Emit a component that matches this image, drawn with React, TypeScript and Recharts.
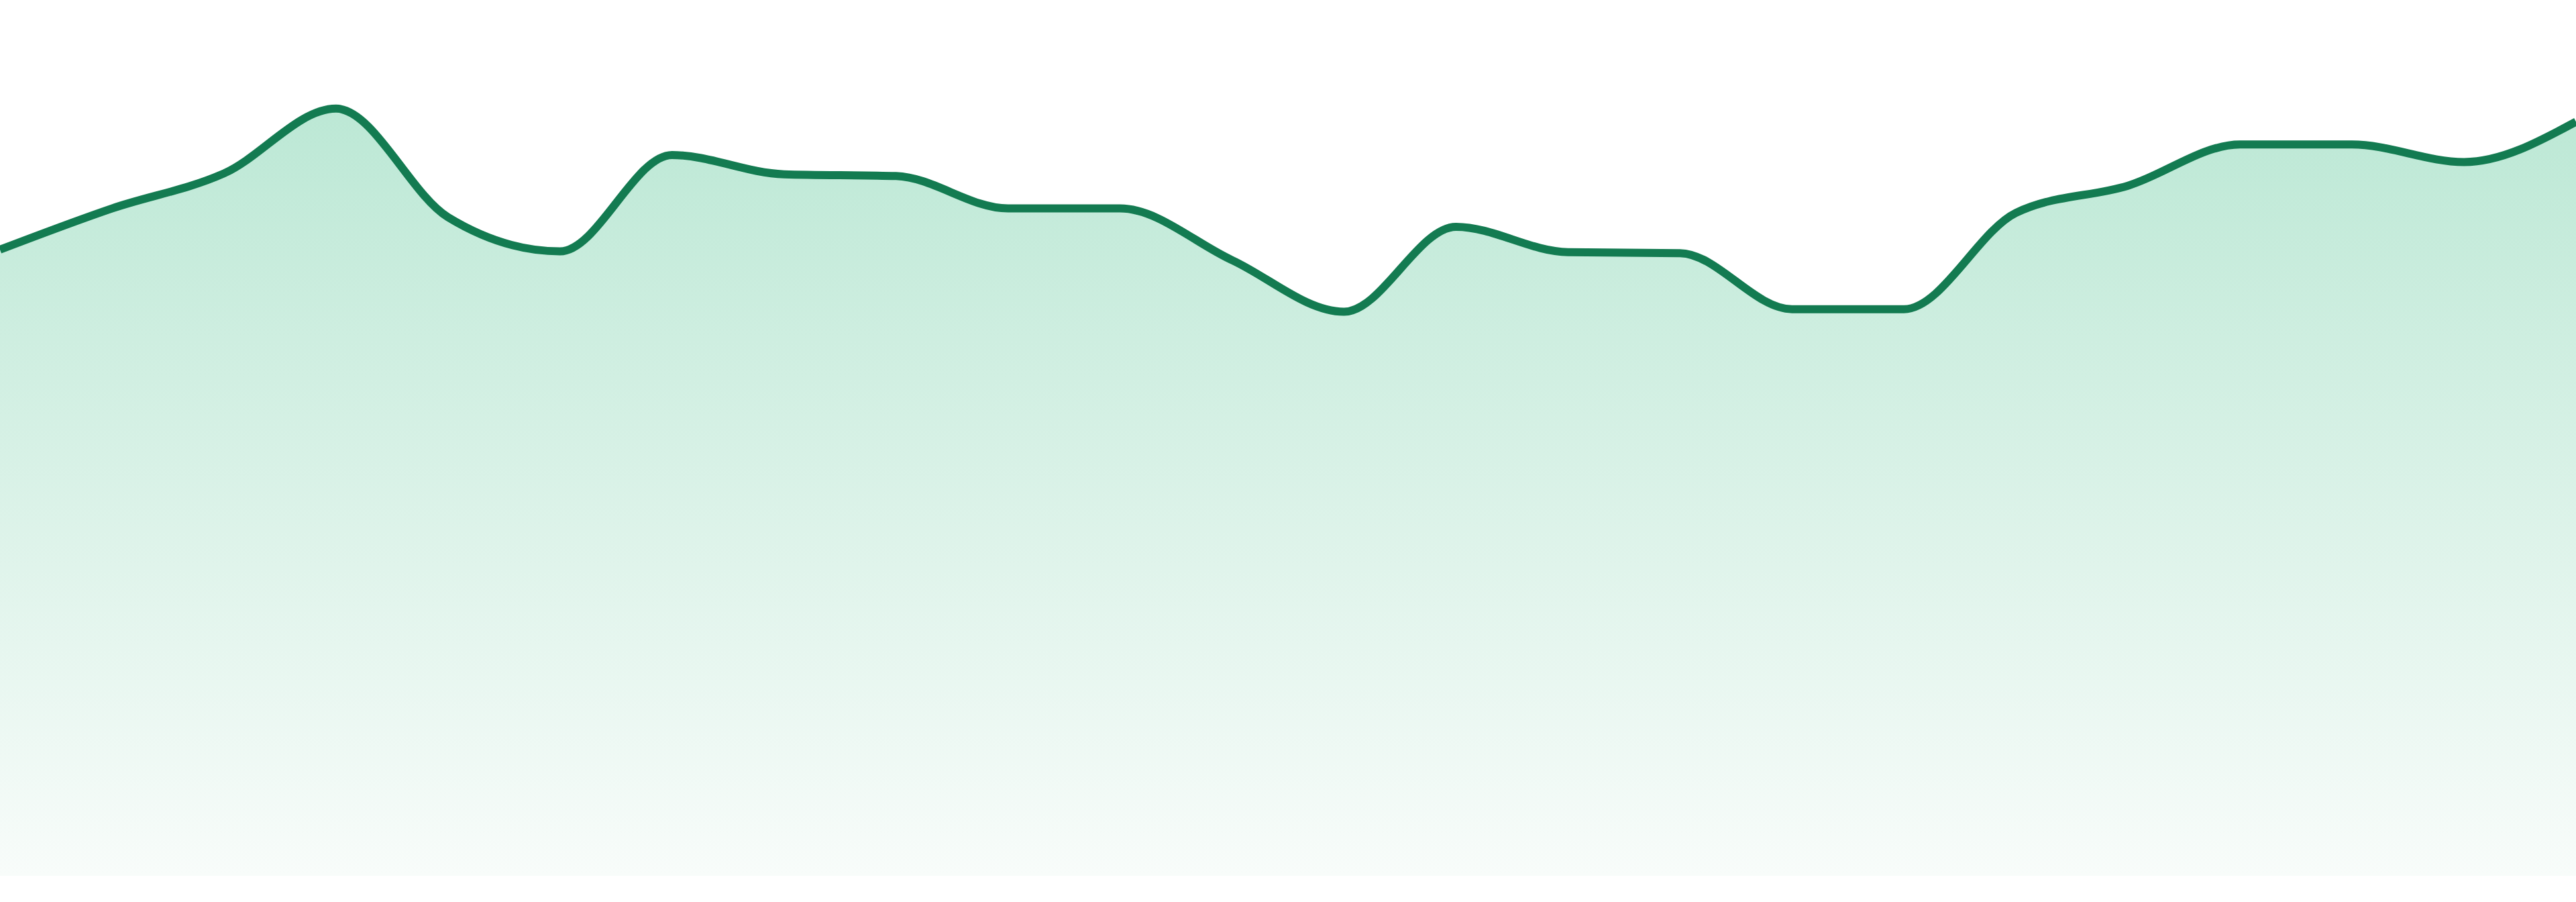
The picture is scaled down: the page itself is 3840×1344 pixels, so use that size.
import { AreaChart, Area, XAxis, YAxis } from 'recharts';

// one point per period, left to right
const PERIODS = [
  'P1', 'P2', 'P3', 'P4', 'P5', 'P6', 'P7', 'P8', 'P9', 'P10', 'P11', 'P12',
  'P13', 'P14', 'P15', 'P16', 'P17', 'P18', 'P19', 'P20', 'P21', 'P22', 'P23', 'P24',
];
const VALUES = [
  71.5, 76.2, 80.2, 87.6, 75.2, 71.3, 82.3, 80.1, 79.9, 76.2, 76.2, 70.3,
  64.4, 74.1, 71.2, 71.1, 64.7, 64.7, 75.7, 78.8, 83.5, 83.5, 81.5, 86.1,
];
const Y_DOMAIN = [0, 100];

const STROKE = '#137b51';

const data = PERIODS.map((p, i) => ({ period: p, value: VALUES[i] }));

export default function App() {
  return (
    <div style={{ position: 'absolute', left: 0, top: 0, width: 3840, height: 1344, background: '#fff' }}>
      <AreaChart width={3840} height={1344} data={data} margin={{ top: 0, right: 0, bottom: 39, left: 0 }}>
        <defs>
          <linearGradient id="fillGrad" x1="0" y1="0" x2="0" y2="1">
            <stop offset="0%" stopColor="#bce8d5" />
            <stop offset="100%" stopColor="#f8fcfa" />
          </linearGradient>
        </defs>
        <XAxis dataKey="period" hide padding={{ left: 0, right: 0 }} />
        <YAxis hide domain={Y_DOMAIN} />
        <Area
          type="monotone"
          dataKey="value"
          stroke={STROKE}
          strokeWidth={12}
          fill="url(#fillGrad)"
          fillOpacity={1}
          dot={false}
          activeDot={false}
          isAnimationActive={false}
        />
      </AreaChart>
    </div>
  );
}
